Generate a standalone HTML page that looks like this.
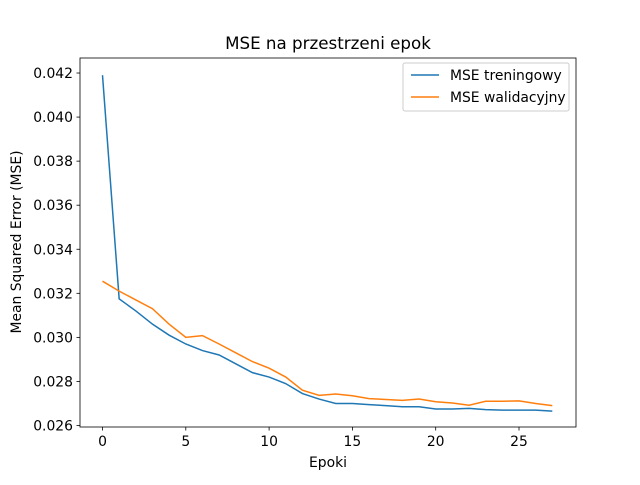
<!DOCTYPE html>
<html><head><meta charset="utf-8"><style>
body{margin:0;background:#fff}
svg text{font-family:"DejaVu Sans","Liberation Sans",sans-serif;fill:#000}
</style></head><body>
<svg id="chart" width="640" height="480" xmlns="http://www.w3.org/2000/svg">
<rect width="640" height="480" fill="#fff"/>
<text x="328" y="49" font-size="16.7" text-anchor="middle">MSE na przestrzeni epok</text>
<g id="ticks"></g>
<g id="lines"></g>
<rect x="80" y="58" width="496" height="369" fill="none" stroke="#000" stroke-width="0.8"/>
<text x="328" y="467" font-size="13.9" text-anchor="middle">Epoki</text>
<text transform="translate(21,242) rotate(-90)" font-size="13.9" text-anchor="middle">Mean Squared Error (MSE)</text>
<g>
<rect x="403" y="63" width="166" height="48" rx="2" fill="#fff" fill-opacity="0.8" stroke="#ccc"/>
<line x1="411" y1="75" x2="439" y2="75" stroke="#1f77b4" stroke-width="1.5"/>
<text x="450" y="80" font-size="13.9">MSE treningowy</text>
<line x1="411" y1="97" x2="439" y2="97" stroke="#ff7f0e" stroke-width="1.5"/>
<text x="450" y="102" font-size="13.9">MSE walidacyjny</text>
</g>
</svg>
<script>
const epochs=[0,1,2,3,4,5,6,7,8,9,10,11,12,13,14,15,16,17,18,19,20,21,22,23,24,25,26,27];
const trainMSE=[0.0419,0.03175,0.0312,0.0306,0.0301,0.0297,0.0294,0.0292,0.0288,0.0284,0.0282,0.0279,0.02745,0.0272,0.0270,0.0270,0.02695,0.0269,0.02685,0.02685,0.02675,0.02675,0.02678,0.02672,0.0267,0.0267,0.0267,0.02665];
const valMSE=[0.03255,0.0321,0.0317,0.0313,0.0306,0.0300,0.03008,0.0297,0.0293,0.0289,0.0286,0.0282,0.0276,0.02737,0.02743,0.02735,0.02722,0.02718,0.02714,0.0272,0.02708,0.02702,0.02692,0.0271,0.0271,0.02712,0.027,0.0269];
const xTicks=[0,5,10,15,20,25];
const yTicks=[0.026,0.028,0.030,0.032,0.034,0.036,0.038,0.040,0.042];
const NS="http://www.w3.org/2000/svg";
function xs(v){return 102.5+(v)*16.66;}
function ys(v){return 425.5-(v-0.026)*22030;}
const tg=document.getElementById('ticks');
function mk(t,a,p){const e=document.createElementNS(NS,t);for(const k in a)e.setAttribute(k,a[k]);p.appendChild(e);return e;}
xTicks.forEach(t=>{const x=xs(t);
 const l=mk('line',{x1:x,x2:x,y1:427,y2:430.5,stroke:'#000','stroke-width':0.8},tg);
 
 
 const tx=mk('text',{x:x,y:446,'font-size':13.9,'text-anchor':'middle'},tg);tx.textContent=t;
 
 });
yTicks.forEach(t=>{const y=ys(t);
 const l=mk('line',{x1:76.5,x2:80,y1:y,y2:y,stroke:'#000','stroke-width':0.8},tg);
 
 
 const tx=mk('text',{x:73,y:y+5,'font-size':13.9,'text-anchor':'end'},tg);tx.textContent=t.toFixed(3);
 
 });
const lg=document.getElementById('lines');
function line(d,c,n){const p=mk('polyline',{points:epochs.map((e,i)=>xs(e)+','+ys(d[i])).join(' '),fill:'none',stroke:c,'stroke-width':1.5},lg);
 
 }
line(trainMSE,'#1f77b4','train-line');
line(valMSE,'#ff7f0e','val-line');
</script>
</body></html>
